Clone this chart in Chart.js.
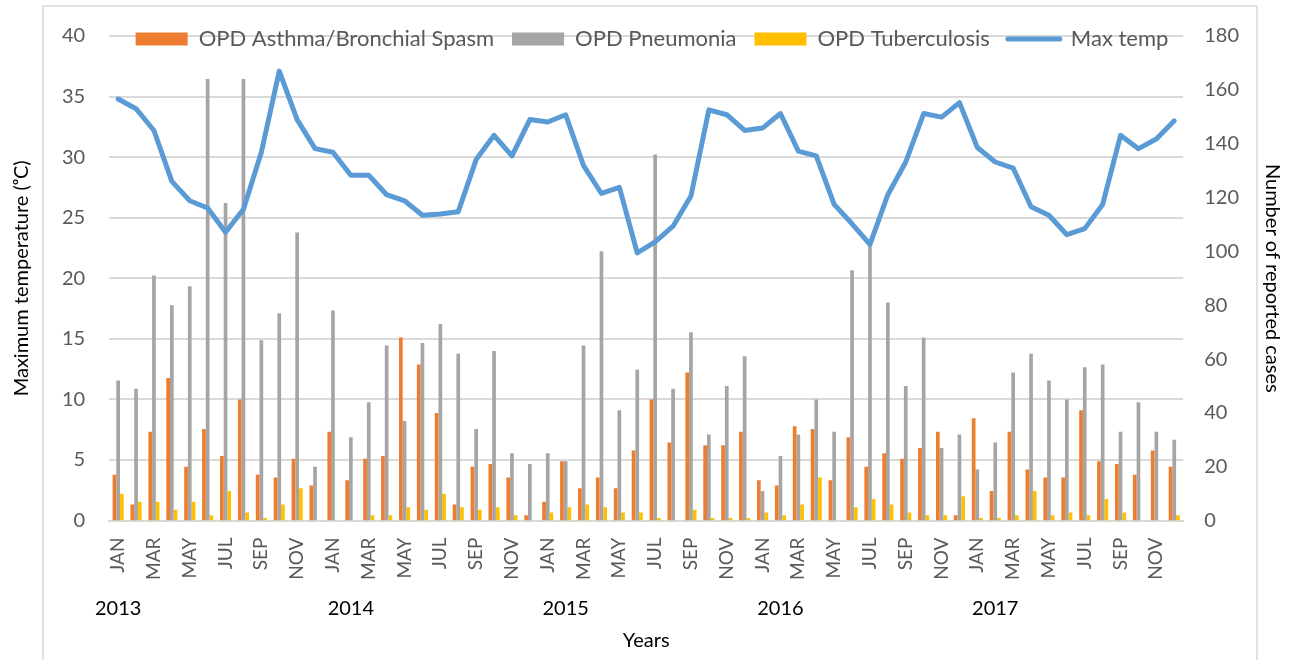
<!DOCTYPE html>
<html>
<head>
<meta charset="utf-8">
<script src="https://cdn.jsdelivr.net/npm/chart.js@4/dist/chart.umd.min.js"></script>
<style>
  html, body { margin: 0; padding: 0; background: #fff; }
</style>
</head>
<body>
<canvas id="myChart" width="1294" height="660"></canvas>
<script>
const monthNames = ['JAN', 'FEB', 'MAR', 'APR', 'MAY', 'JUN', 'JUL', 'AUG', 'SEP', 'OCT', 'NOV', 'DEC'];
const years = ['2013', '2014', '2015', '2016', '2017'];

// monthly max temperature (left axis, °C)
const maxTemp = [
    34.8, 34.0, 32.2, 28.0, 26.4, 25.8, 23.8, 25.7, 30.4, 37.1, 33.1, 30.7,
    30.4, 28.5, 28.5, 26.9, 26.4, 25.2, 25.3, 25.5, 29.8, 31.8, 30.1, 33.1,
    32.9, 33.5, 29.3, 27.0, 27.5, 22.1, 23.0, 24.3, 26.8, 33.9, 33.5, 32.2,
    32.4, 33.6, 30.5, 30.1, 26.1, 24.5, 22.8, 26.9, 29.6, 33.6, 33.3, 34.5,
    30.8, 29.6, 29.1, 25.9, 25.2, 23.6, 24.1, 26.1, 31.8, 30.7, 31.5, 33.0
];

// reported cases (right axis)
const asthma = [
    17, 6, 33, 53, 20, 34, 24, 45, 17, 16, 23, 13,
    33, 15, 23, 24, 68, 58, 40, 6, 20, 21, 16, 2,
    7, 22, 12, 16, 12, 26, 45, 29, 55, 28, 28, 33,
    15, 13, 35, 34, 15, 31, 20, 25, 23, 27, 33, 2,
    38, 11, 33, 19, 16, 16, 41, 22, 21, 17, 26, 20
];
const pneumonia = [
    52, 49, 91, 80, 87, 164, 118, 164, 67, 77, 107, 20,
    78, 31, 44, 65, 37, 66, 73, 62, 34, 63, 25, 21,
    25, 22, 65, 100, 41, 56, 136, 49, 70, 32, 50, 61,
    11, 24, 32, 45, 33, 93, 103, 81, 50, 68, 27, 32,
    19, 29, 55, 62, 52, 45, 57, 58, 33, 44, 33, 30
];
const tuberculosis = [
    10, 7, 7, 4, 7, 2, 11, 3, 1, 6, 12, 0,
    0, 0, 2, 2, 5, 4, 10, 5, 4, 5, 2, 0,
    3, 5, 6, 5, 3, 3, 1, 0, 4, 1, 1, 1,
    3, 2, 6, 16, 0, 5, 8, 6, 3, 2, 2, 9,
    1, 1, 2, 11, 2, 3, 2, 8, 3, 0, 0, 2
];

const labels = [];
years.forEach(() => monthNames.forEach(m => labels.push(m)));

// year label sits under JAN for the first year, FEB afterwards (as in the original)
const yearAt = {};
years.forEach((y, i) => { yearAt[i * 12 + (i ? 1 : 0)] = y; });

const FONT = 'Lato, "Open Sans", sans-serif';
const tickColor = '#595959';
const gridColor = '#d9d9d9';

// legend overlaps the top gridline like in excel: reserve only a little room for it
const legendHeight = {
    id: 'legendHeight',
    afterInit(chart) {
        const fit = chart.legend.fit;
        chart.legend.fit = function () {
            fit.call(this);
            this.height = 26;
        };
    },
    afterLayout(chart) {
        chart.legend.bottom = chart.legend.top + 70; // don't clip the items
    }
};

const frame = {
    id: 'frame',
    beforeDraw(chart) {
        const ctx = chart.ctx;
        ctx.save();
        ctx.strokeStyle = gridColor;
        ctx.lineWidth = 1.5;
        ctx.strokeRect(43, 6, chart.width - 80, chart.height + 20);
        ctx.restore();
    }
};

const data = {
    labels: labels,
    datasets: [
    {
        type: 'line',
        label: 'Max temp',
        data: maxTemp,
        yAxisID: 'y',
        borderColor: '#5b9bd5',
        backgroundColor: '#5b9bd5',
        borderWidth: 5,
        borderCapStyle: 'round',
        borderJoinStyle: 'round',
        pointRadius: 0,
        tension: 0,
        order: 0
    },
    {
        label: 'OPD Asthma/Bronchial Spasm',
        data: asthma,
        yAxisID: 'y1',
        backgroundColor: '#ed7d31',
        order: 1
    },
    {
        label: 'OPD Pneumonia',
        data: pneumonia,
        yAxisID: 'y1',
        backgroundColor: '#a5a5a5',
        order: 1
    },
    {
        label: 'OPD Tuberculosis',
        data: tuberculosis,
        yAxisID: 'y1',
        backgroundColor: '#ffc000',
        order: 1
    }]
};

const config = {
    type: 'bar',
    data: data,
    options: {
        responsive: false,
        animation: false,
        devicePixelRatio: 1,
        categoryPercentage: 0.62,
        barPercentage: 1,
        layout: { padding: { top: 9, left: 10, right: 0, bottom: 7 } },
        plugins: {
            tooltip: { enabled: false },
            legend: {
                position: 'top',
                labels: {
                    font: { family: FONT, size: 22 },
                    color: tickColor,
                    usePointStyle: true,
                    pointStyleWidth: 52,
                    boxHeight: 13,
                    padding: 18,
                    sort: (a, b) => (a.datasetIndex === 0) - (b.datasetIndex === 0),
                    generateLabels(chart) {
                        return chart.data.datasets.map((ds, i) => ({
                            text: ds.label,
                            datasetIndex: i,
                            fillStyle: ds.backgroundColor,
                            strokeStyle: ds.type === 'line' ? ds.borderColor : ds.backgroundColor,
                            lineWidth: ds.type === 'line' ? 5 : 0,
                            lineCap: 'round',
                            pointStyle: ds.type === 'line' ? 'line' : 'rect',
                            fontColor: tickColor,
                            hidden: false
                        }));
                    }
                }
            }
        },
        scales: {
            x: {
                weight: 0,
                grid: { display: false },
                border: { color: gridColor, width: 2 },
                ticks: {
                    autoSkip: false,
                    minRotation: 90,
                    maxRotation: 90,
                    padding: 9,
                    color: tickColor,
                    font: { family: FONT, size: 19 },
                    callback: (v, i) => (i % 2 === 0 ? labels[i] : '')
                }
            },
            x2: {
                position: 'bottom',
                weight: 1,
                grid: { display: false },
                border: { display: false },
                ticks: {
                    autoSkip: false,
                    maxRotation: 0,
                    padding: 0,
                    color: '#000',
                    font: { family: FONT, size: 20 },
                    callback: (v, i) => yearAt[i] || ''
                },
                title: {
                    display: true,
                    text: 'Years',
                    color: '#000',
                    font: { family: FONT, size: 20 },
                    padding: { top: 8, bottom: 0 }
                }
            },
            y: {
                position: 'left',
                min: 0,
                max: 40,
                grid: { color: gridColor, lineWidth: 2, drawTicks: false },
                border: { display: false },
                ticks: {
                    stepSize: 5,
                    padding: 24,
                    color: tickColor,
                    font: { family: FONT, size: 20 }
                },
                title: {
                    display: true,
                    text: 'Maximum temperature (ᵒC)',
                    color: '#000',
                    font: { family: FONT, size: 20 },
                    padding: { top: 0, bottom: 4 }
                }
            },
            y1: {
                position: 'right',
                min: 0,
                max: 180,
                grid: { display: false, drawTicks: false },
                border: { display: false },
                ticks: {
                    stepSize: 20,
                    padding: 21,
                    color: tickColor,
                    font: { family: FONT, size: 20 }
                },
                title: {
                    display: true,
                    text: 'Number of reported cases',
                    color: '#000',
                    font: { family: FONT, size: 20 },
                    padding: { top: 10, bottom: 0 }
                }
            }
        }
    },
    plugins: [legendHeight, frame]
};

const myChart = new Chart(
    document.getElementById('myChart'),
    config
);
</script>
</body>
</html>
